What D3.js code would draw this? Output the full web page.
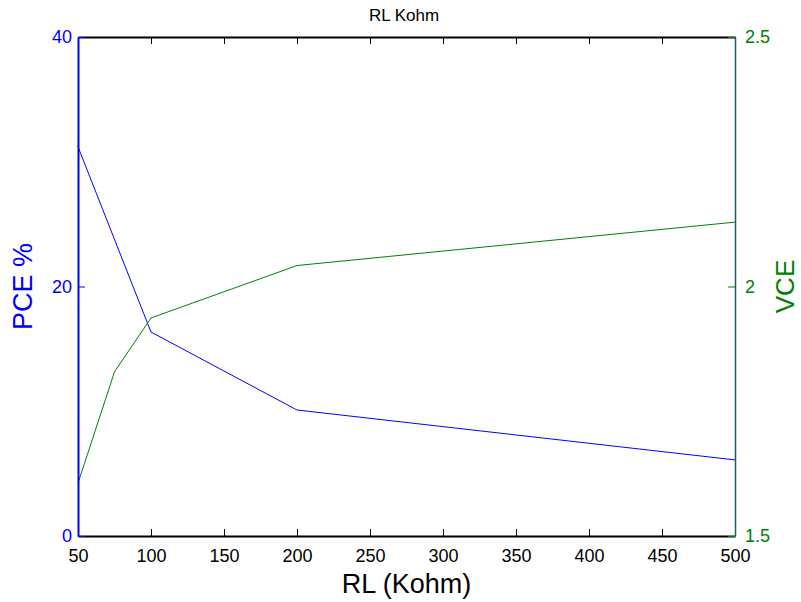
<!DOCTYPE html>
<html>
<head>
<meta charset="utf-8">
<script src="https://cdn.jsdelivr.net/npm/d3@7"></script>
<style>
  body { margin: 0; background: #fff; }
  svg { font-family: "Liberation Sans", Arial, sans-serif; }
</style>
</head>
<body>
<div id="chart"></div>
<script>
// data
var rlPce = [50, 100, 200, 500];
var pce = [31.2, 16.35, 10.1, 6.1];
var rlVce = [50, 75, 100, 200, 500];
var vce = [1.606, 1.829, 1.937, 2.042, 2.129];
var xTicks = [50, 100, 150, 200, 250, 300, 350, 400, 450, 500];
var pceTicks = [0, 20, 40];
var vceTicks = [1.5, 2, 2.5];

var margins = { top: 37, bottom: 66, left: 78, right: 66 };
var svgWidth = 801, svgHeight = 602;
var width = svgWidth - margins.left - margins.right;
var height = svgHeight - margins.top - margins.bottom;
var blue = "#0000ff", green = "#008000";
var tickLen = 7;

var svg = d3.select("#chart").append("svg")
    .attr("width", svgWidth)
    .attr("height", svgHeight);

var g = svg.append("g")
    .attr("transform", `translate(${margins.left},${margins.top})`);

var xScale = d3.scaleLinear().domain([50, 500]).range([0, width]);
var yLeft = d3.scaleLinear().domain([0, 40]).range([height, 0]);
var yRight = d3.scaleLinear().domain([1.5, 2.5]).range([height, 0]);

// lines
var pceLine = d3.line().x((d, i) => xScale(rlPce[i])).y(d => yLeft(d));
var vceLine = d3.line().x((d, i) => xScale(rlVce[i])).y(d => yRight(d));

g.append("path").datum(pce)
    .attr("d", pceLine)
    .attr("fill", "none")
    .attr("stroke", blue)
    .attr("stroke-width", 1);

g.append("path").datum(vce)
    .attr("d", vceLine)
    .attr("fill", "none")
    .attr("stroke", green)
    .attr("stroke-width", 1);

// x axes (bottom with labels, top ticks only), ticks pointing inward
var xBottom = g.append("g")
    .attr("transform", `translate(0,${height})`)
    .call(d3.axisBottom(xScale).tickValues(xTicks).tickSizeInner(-tickLen).tickSizeOuter(0).tickPadding(13));
xBottom.select(".domain").attr("stroke", "#000").attr("stroke-width", 2);
xBottom.selectAll("text").attr("fill", "#000").style("font-size", "18px");

var xTop = g.append("g")
    .call(d3.axisTop(xScale).tickValues(xTicks).tickSizeInner(-tickLen).tickSizeOuter(0).tickFormat(""));
xTop.select(".domain").attr("stroke", "#000").attr("stroke-width", 2);

// left axis (PCE)
var yl = g.append("g")
    .call(d3.axisLeft(yLeft).tickValues(pceTicks).tickSizeInner(-tickLen).tickSizeOuter(0).tickPadding(6));
yl.select(".domain").attr("stroke", blue).attr("stroke-width", 2);
yl.selectAll("line").attr("stroke", blue);
yl.selectAll("text").attr("fill", blue).style("font-size", "18px");

// right axis (VCE)
var yr = g.append("g")
    .attr("transform", `translate(${width},0)`)
    .call(d3.axisRight(yRight).tickValues(vceTicks).tickFormat(d => d).tickSizeInner(-tickLen).tickSizeOuter(0).tickPadding(10));
yr.select(".domain").attr("stroke", "#1b5e6e").attr("stroke-width", 1.5);
yr.selectAll("line").attr("stroke", green);
yr.selectAll("text").attr("fill", green).style("font-size", "18px");

// labels
svg.append("text")
    .attr("x", 404)
    .attr("y", 21)
    .style("text-anchor", "middle")
    .style("font-size", "17px")
    .attr("fill", "#000")
    .text("RL Kohm");

svg.append("text")
    .attr("x", margins.left + width / 2)
    .attr("y", 593)
    .style("text-anchor", "middle")
    .style("font-size", "27px")
    .attr("fill", "#000")
    .text("RL (Kohm)");

svg.append("text")
    .attr("transform", `translate(32,${margins.top + height / 2}) rotate(-90)`)
    .style("text-anchor", "middle")
    .style("font-size", "27px")
    .attr("fill", blue)
    .text("PCE %");

svg.append("text")
    .attr("transform", `translate(794,${margins.top + height / 2}) rotate(-90)`)
    .style("text-anchor", "middle")
    .style("font-size", "26px")
    .attr("fill", green)
    .text("VCE");
</script>
</body>
</html>
